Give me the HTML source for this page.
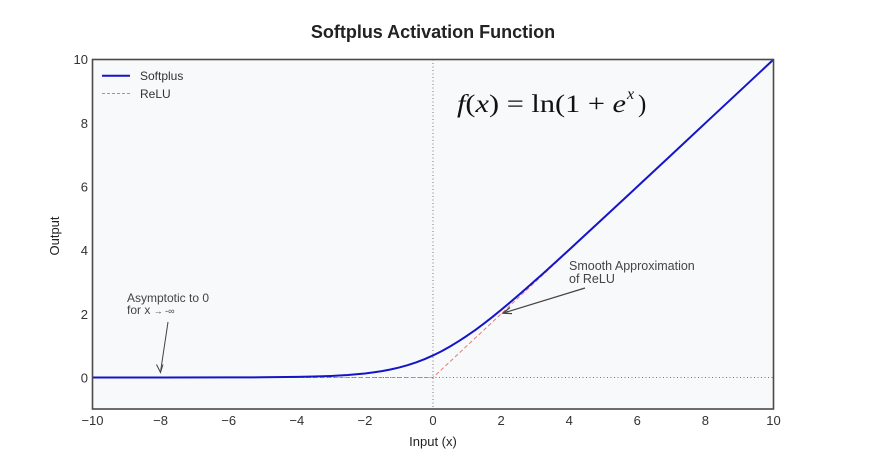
<!DOCTYPE html>
<html><head><meta charset="utf-8"><style>
html,body{margin:0;padding:0;background:#fff;}
svg{display:block;}
.s{font-family:"Liberation Sans",Arial,sans-serif;}
.m{font-family:"Liberation Serif","DejaVu Serif",serif;}
</style></head><body>
<svg width="872" height="473" viewBox="0 0 872 473" xmlns="http://www.w3.org/2000/svg">
<rect x="0" y="0" width="872" height="473" fill="#ffffff"/>
<text class="s" x="433" y="38" text-anchor="middle" font-size="18" font-weight="bold" fill="#222">Softplus Activation Function</text>
<!-- plot area -->
<rect x="92.5" y="59.5" width="681" height="349.5" fill="#f8f9fa"/>
<!-- zero lines -->
<line x1="433" y1="59.5" x2="433" y2="409" stroke="#777" stroke-width="1" stroke-dasharray="1,2.5"/>
<line x1="92.5" y1="377.5" x2="773.5" y2="377.5" stroke="#777" stroke-width="1" stroke-dasharray="1,2.5"/>
<!-- ReLU -->
<polyline points="92.5,377.5 433,377.5 773.5,59.5" fill="none" stroke="#e06666" stroke-width="1" stroke-dasharray="4,2.5" opacity="0.85"/>
<!-- Softplus -->
<polyline fill="none" stroke="#1515c8" stroke-width="2" stroke-linejoin="round" points="92.5,377.5 160.6,377.49 228.7,377.42 262.75,377.29 296.8,376.92 313.8,376.55 330.85,375.95 347.9,375.0 364.9,373.46 373.4,372.4 381.9,371.1 390.4,369.5 398.95,367.54 407.5,365.18 416.0,362.42 424.5,359.19 433,355.46 441.5,351.24 450.0,346.52 458.5,341.33 467.05,335.74 475.6,329.8 484.1,323.4 492.6,316.8 501.1,309.86 509.6,302.8 518.1,295.49 526.6,288.1 535.15,280.55 543.7,272.95 552.2,265.25 560.7,257.5 569.2,249.72 586.2,234.0 603.25,218.29 637.3,186.62 671.4,154.85 705.4,123.05 739.45,91.3 773.5,59.5"/>
<!-- border -->
<rect x="92.5" y="59.5" width="681" height="349.5" fill="none" stroke="#4a4a4a" stroke-width="1.6"/>
<!-- x tick labels -->
<g class="s" font-size="13" fill="#333" text-anchor="middle">
<text x="92.5" y="425">−10</text>
<text x="160.6" y="425">−8</text>
<text x="228.7" y="425">−6</text>
<text x="296.8" y="425">−4</text>
<text x="364.9" y="425">−2</text>
<text x="433" y="425">0</text>
<text x="501.1" y="425">2</text>
<text x="569.2" y="425">4</text>
<text x="637.3" y="425">6</text>
<text x="705.4" y="425">8</text>
<text x="773.5" y="425">10</text>
</g>
<!-- y tick labels -->
<g class="s" font-size="13" fill="#333" text-anchor="end">
<text x="88" y="64">10</text>
<text x="88" y="128">8</text>
<text x="88" y="191.5">6</text>
<text x="88" y="255">4</text>
<text x="88" y="319">2</text>
<text x="88" y="382.5">0</text>
</g>
<text class="s" x="433" y="446" text-anchor="middle" font-size="13" fill="#222">Input (x)</text>
<text class="s" transform="translate(59,236) rotate(-90)" text-anchor="middle" font-size="13" fill="#222">Output</text>
<!-- legend -->
<line x1="102" y1="75.7" x2="130" y2="75.7" stroke="#1515c8" stroke-width="2"/>
<text class="s" x="140" y="80" font-size="12" fill="#333">Softplus</text>
<line x1="102" y1="93.5" x2="130" y2="93.5" stroke="#e87878" stroke-width="1" stroke-dasharray="3,2"/>
<text class="s" x="140" y="98" font-size="12" fill="#333">ReLU</text>
<!-- formula -->
<text class="m" x="457" y="112" font-size="25" fill="#111" textLength="169" lengthAdjust="spacingAndGlyphs"><tspan font-style="italic">f</tspan>(<tspan font-style="italic">x</tspan>) = ln(1 + <tspan font-style="italic">e</tspan></text>
<text class="m" x="627" y="99" font-size="16" font-style="italic" fill="#111">x</text>
<text class="m" x="638" y="112" font-size="25" fill="#111">)</text>
<!-- annotations -->
<text class="s" x="127" y="302" font-size="12" fill="#444">Asymptotic to 0</text>
<text class="s" x="127" y="314" font-size="12" fill="#444">for x <tspan font-size="9">→ -∞</tspan></text>
<line x1="168" y1="322" x2="160.5" y2="372" stroke="#444" stroke-width="1"/>
<polyline points="156.5,364.5 160.5,372.5 163,364.5" fill="none" stroke="#444" stroke-width="1"/>
<text class="s" x="569" y="270" font-size="12.5" fill="#444">Smooth Approximation</text>
<text class="s" x="569" y="283" font-size="12.5" fill="#444">of ReLU</text>
<line x1="585" y1="288" x2="503.5" y2="313" stroke="#444" stroke-width="1.2"/>
<polyline points="510,307.5 503,313.2 512,313.6" fill="none" stroke="#444" stroke-width="1.2"/>
</svg>
</body></html>
